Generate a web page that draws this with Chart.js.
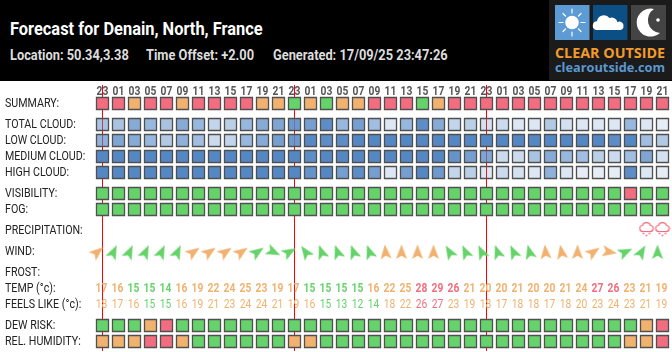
<!DOCTYPE html>
<html><head><meta charset="utf-8">
<script src="https://cdn.jsdelivr.net/npm/chart.js@4"></script>
<style>
html,body{margin:0;padding:0;background:#fff;overflow:hidden}
#page{position:relative;width:672px;height:352px}
#head{position:absolute;left:0;top:0;width:672px;height:81px;background:#000}
#head span{position:absolute;white-space:nowrap;font-family:Roboto,sans-serif;font-weight:bold;transform-origin:left top}
#title{left:10px;top:18px;font-size:18.5px;color:#fff;transform:scaleX(.887)}
.sub{top:46px;font-size:15px;color:#ddd;transform:scaleX(.855)}
#logo{position:absolute;left:549px;top:0}
canvas{position:absolute;left:0;top:81px}
</style></head>
<body><div id="page">
<div id="head">
<span id="title">Forecast for Denain, North, France</span>
<span class="sub" style="left:10px">Location: 50.34,3.38</span>
<span class="sub" style="left:146px">Time Offset: +2.00</span>
<span class="sub" style="left:273px">Generated: 17/09/25 23:47:26</span>
<svg id="logo" width="123" height="80" viewBox="0 0 123 80">
<rect width="123" height="80" fill="#1b1b1b"/>
<rect x="6" y="5" width="34.5" height="35" fill="#5d9bd5"/>
<g stroke="#fff" stroke-width="1.2" stroke-linecap="round">
<line x1="23" y1="9" x2="23" y2="13"/><line x1="23" y1="32" x2="23" y2="36"/><line x1="10" y1="22.5" x2="14" y2="22.5"/><line x1="32" y1="22.5" x2="36" y2="22.5"/>
<line x1="14" y1="13.5" x2="16.5" y2="16"/><line x1="29.5" y1="29" x2="32" y2="31.5"/><line x1="14" y1="31.5" x2="16.5" y2="29"/><line x1="29.5" y1="16" x2="32" y2="13.5"/>
</g><circle cx="23" cy="22.5" r="6.8" fill="#fff"/>
<rect x="44" y="5" width="34.5" height="35" fill="#0b4f85"/>
<path d="M47 30 a4.5 4.5 0 0 1 1 -8.8 a7 7 0 0 1 12.5 -3.2 a6 6 0 0 1 8 4.2 a4 4 0 0 1 6 4 a4 4 0 0 1 -3 3.8 z" fill="#fff"/>
<rect x="82" y="5" width="35" height="35" fill="#444"/>
<path d="M105 9 a14 14 0 1 0 6 24 a13 13 0 0 1 -6 -24 z" fill="#fff"/>
<circle cx="91" cy="21" r="1" fill="#fff"/><circle cx="109" cy="20" r="1.8" fill="#fff"/><circle cx="94" cy="33" r="1.2" fill="#fff"/>
<text x="6" y="58" font-family="Open Sans,sans-serif" font-weight="bold" font-size="14" fill="#f39a2b" textLength="110" lengthAdjust="spacingAndGlyphs">CLEAR OUTSIDE</text>
<text x="6" y="72" font-family="Open Sans,sans-serif" font-weight="bold" font-size="13" fill="#5b97cf" textLength="110" lengthAdjust="spacingAndGlyphs">clearoutside.com</text>
</svg>
</div>
<canvas id="c" width="672" height="271"></canvas>
</div>
<script>
const hours = ['23','01','03','05','07','09','11','13','15','17','19','21','23','01','03','05','07','09','11','13','15','17','19','21','23','01','03','05','07','09','11','13','15','17','19','21'];
const dayMarks = [0,12,24];
// ratings: 0 good, 1 fair, 2 poor
const summary = [2,2,1,2,2,1,2,2,2,2,1,1,0,1,0,1,1,2,2,2,0,1,2,2,2,2,2,2,2,2,2,2,2,2,2,2];
const totalCloud = [50,50,70,60,50,70,60,35,40,60,70,75,85,80,95,60,80,55,20,60,95,70,35,40,25,30,20,20,45,25,20,20,20,60,20,15];
const lowCloud = [65,75,70,60,45,65,55,30,35,60,70,80,85,98,95,95,100,100,100,100,100,100,100,100,100,100,100,100,100,100,100,100,95,100,55,45];
const mediumCloud = [100,100,100,100,100,100,100,100,100,100,100,100,100,95,100,100,100,100,100,100,100,100,90,80,75,30,30,50,70,60,55,40,30,55,75,25];
const highCloud = [100,100,100,100,100,100,100,100,100,100,100,100,100,90,100,80,95,80,20,80,100,85,35,40,20,30,25,20,65,20,15,15,15,95,20,15];
const visibility = [0,0,0,0,0,0,0,0,0,0,0,0,0,0,0,0,0,0,0,0,0,0,0,0,0,0,0,0,0,0,0,0,0,2,0,0];
const fog = [0,0,0,0,0,0,0,0,0,0,0,0,0,0,0,0,0,0,0,0,0,0,0,0,0,0,0,0,0,0,0,0,0,0,0,0];
const precipitation = [null,null,null,null,null,null,null,null,null,null,null,null,null,null,null,null,null,null,null,null,null,null,null,null,null,null,null,null,null,null,null,null,null,null,0.1,0.1];
const windHeading = [50,25,25,25,25,25,55,55,55,55,55,115,60,-35,-20,-20,-20,-20,-5,0,0,0,-30,-25,-25,-20,-25,-15,-5,-10,0,55,100,65,30,0];
const windRating = [1,0,0,0,0,0,1,1,1,1,0,0,0,0,0,0,0,0,1,1,1,1,0,0,0,0,0,0,1,1,1,1,1,0,0,0];
const temp = [17,16,15,15,14,16,19,22,24,25,23,19,17,15,15,15,15,16,22,25,28,29,26,21,20,20,21,20,20,21,24,27,26,23,21,19];
const feelsLike = [18,17,16,15,15,16,19,21,23,24,24,21,19,16,15,13,12,14,18,22,26,27,23,19,18,17,18,18,17,18,20,23,24,23,21,19];
const dewRisk = [0,0,0,1,2,0,0,0,0,0,0,0,0,0,0,0,0,0,0,0,0,0,0,0,0,0,0,0,0,0,0,0,0,0,1,2];
const humidity = [1,1,1,2,2,1,0,0,0,0,0,0,1,1,0,0,0,0,0,0,0,0,0,0,0,0,0,0,0,0,0,0,0,1,1,2];
const rowNames = ['SUMMARY:','TOTAL CLOUD:','LOW CLOUD:','MEDIUM CLOUD:','HIGH CLOUD:','VISIBILITY:','FOG:','PRECIPITATION:','WIND:','FROST:','TEMP (°c):','FEELS LIKE (°c):','DEW RISK:','REL. HUMIDITY:'];

const FONT = 'Roboto,sans-serif';
const STATUS = ['#66d36a','#f0b26e','#f26d7f'];
const rowAt = [0,1.3125,2.3125,3.3125,4.3125,5.625,6.625,7.94,9.28,10.56,11.56,12.56,13.875,14.875];
const tempColor = v => v >= 26 ? STATUS[2] : v >= 16 ? STATUS[1] : STATUS[0];

function arrow(color){
  const c=document.createElement('canvas');c.width=c.height=20;
  const g=c.getContext('2d');g.fillStyle=color;g.translate(10,10);
  g.beginPath();g.moveTo(0,-7.5);g.lineTo(5.6,7);g.lineTo(0,3.8);g.lineTo(-5.6,7);g.closePath();g.fill();
  return c;
}
const arrows=[arrow(STATUS[0]),arrow(STATUS[1])];
function rainCloud(){
  const c=document.createElement('canvas');c.width=c.height=16;
  const g=c.getContext('2d');g.strokeStyle=STATUS[2];g.fillStyle=STATUS[2];g.lineWidth=1.2;
  g.beginPath();g.moveTo(5,10.5);g.bezierCurveTo(0.5,11,0,5,4,4.5);g.bezierCurveTo(5,0.8,11,0.8,12,4.5);g.bezierCurveTo(16,5,15.5,11,11,10.5);g.bezierCurveTo(9.5,10.5,6.5,10.5,5,10.5);g.stroke();
  [[5,12.5],[11,12.5],[8,14.5]].forEach(p=>g.fillRect(p[0]-.8,p[1]-.8,1.6,1.6));
  return c;
}
const cloudIcon=rainCloud();

function tiles(values,row,fill){
  return {type:'line',showLine:false,data:values.map(()=>rowAt[row]),
    pointStyle:'rect',pointRadius:8.5,pointBorderWidth:1.3,pointBorderColor:'#505050',
    pointBackgroundColor:c=>fill(values[c.dataIndex]),clip:false};
}
const status=v=>STATUS[v];
const cloud=v=>'rgba(84,135,196,'+(v/100)+')';
function textRow(values,row,bold){
  return {type:'line',showLine:false,data:values.map(()=>rowAt[row]),pointRadius:0,textValues:values,textBold:bold};
}
const datasets=[
  tiles(summary,0,status),tiles(totalCloud,1,cloud),tiles(lowCloud,2,cloud),tiles(mediumCloud,3,cloud),tiles(highCloud,4,cloud),
  tiles(visibility,5,status),tiles(fog,6,status),
  {type:'line',showLine:false,data:precipitation.map(v=>v==null?null:rowAt[7]-0.1),pointStyle:cloudIcon,pointRadius:8,clip:false},
  {type:'line',showLine:false,isWind:true,data:windHeading.map(()=>rowAt[8]),pointRadius:10,clip:false,
    pointStyle:c=>arrows[windRating[c.dataIndex]],pointRotation:c=>windHeading[c.dataIndex]},
  textRow(temp,10,true),textRow(feelsLike,11,false),
  tiles(dewRisk,12,status),tiles(humidity,13,status)
];
const helper={id:'helper',
  afterDatasetsUpdate(chart){
    chart.data.datasets.forEach((d,i)=>{ if(d.isWind) chart.getDatasetMeta(i).data.forEach(p=>{p.x-=5;}); });
  },
  afterDatasetsDraw(chart){
    const g=chart.ctx;
    chart.data.datasets.forEach((d,i)=>{
      if(!d.textValues) return;
      g.save();g.textAlign='center';g.textBaseline='middle';
      g.font=(d.textBold?'bold ':'')+'12.5px '+FONT;
      chart.getDatasetMeta(i).data.forEach((p,k)=>{
        g.fillStyle=tempColor(d.textValues[k]);
        g.fillText(String(d.textValues[k]),p.x-1,p.y);
      });
      g.restore();
    });
  }};
// the reference's lettering is condensed and no condensed face is installed
const canvas=document.getElementById('c');
const ctx=canvas.getContext('2d');
const rawFillText=ctx.fillText.bind(ctx);
ctx.fillText=function(t,x,y,m){ctx.save();ctx.translate(x,y);ctx.scale(.82,1);rawFillText(t,0,0);ctx.restore();};
new Chart(ctx,{
  type:'line',
  data:{labels:hours,datasets},
  plugins:[helper],
  options:{responsive:false,animation:false,events:[],
    layout:{autoPadding:false,padding:{left:5,right:1.5,top:0,bottom:1}},
    plugins:{legend:{display:false},tooltip:{enabled:false}},
    scales:{
      x:{type:'category',position:'top',offset:true,border:{display:false},
        afterFit(s){s.height=16;s.paddingLeft=0;s.paddingRight=0;},
        grid:{offset:false,tickLength:12,lineWidth:1,
          color:c=>dayMarks.includes(c.index)?'#ff0000':'rgba(0,0,0,0)',
          tickColor:c=>dayMarks.includes(c.index)?'#ff0000':'rgba(0,0,0,0)'},
        ticks:{autoSkip:false,maxRotation:0,minRotation:0,padding:-14,color:'#555',font:{family:FONT,size:12.5,weight:'bold'}}},
      y:{type:'linear',reverse:true,min:-0.40625,max:15.46875,border:{display:false},
        afterFit(s){s.width=89.5;s.paddingTop=0;s.paddingBottom=0;},
        afterBuildTicks(s){s.ticks=rowAt.map(v=>({value:v}));},
        grid:{display:false,drawTicks:false,tickLength:0},
        ticks:{autoSkip:false,crossAlign:'far',padding:0,color:'#222',font:{family:FONT,size:13},
          callback:v=>rowNames[rowAt.indexOf(v)]}}
    }}
});
</script>
</body></html>
